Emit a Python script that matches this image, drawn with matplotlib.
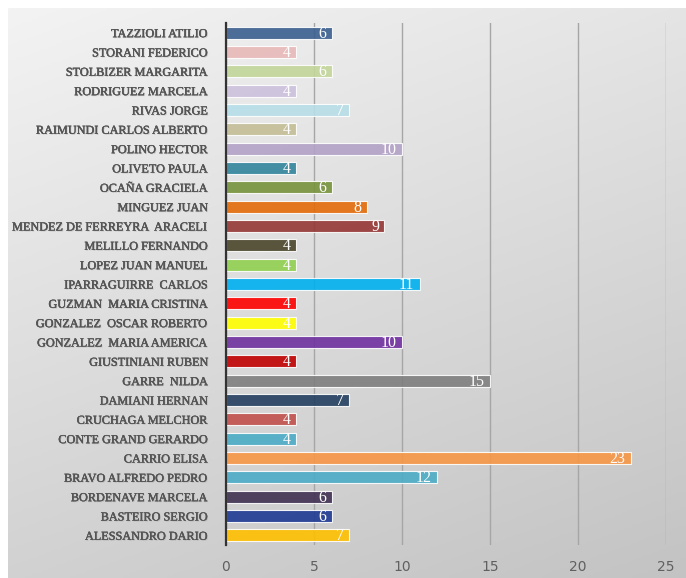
import numpy as np
import matplotlib
matplotlib.use("Agg")
import matplotlib.pyplot as plt
import matplotlib.patheffects as pe
from matplotlib.colors import LinearSegmentedColormap

# candidates, top to bottom as shown in the chart
names = [
    "TAZZIOLI ATILIO", "STORANI FEDERICO", "STOLBIZER MARGARITA",
    "RODRIGUEZ MARCELA", "RIVAS JORGE", "RAIMUNDI CARLOS ALBERTO",
    "POLINO HECTOR", "OLIVETO PAULA", "OCAÑA GRACIELA", "MINGUEZ JUAN",
    "MENDEZ DE FERREYRA  ARACELI", "MELILLO FERNANDO", "LOPEZ JUAN MANUEL",
    "IPARRAGUIRRE  CARLOS", "GUZMAN  MARIA CRISTINA", "GONZALEZ  OSCAR ROBERTO",
    "GONZALEZ  MARIA AMERICA", "GIUSTINIANI RUBEN", "GARRE  NILDA",
    "DAMIANI HERNAN", "CRUCHAGA MELCHOR", "CONTE GRAND GERARDO",
    "CARRIO ELISA", "BRAVO ALFREDO PEDRO", "BORDENAVE MARCELA",
    "BASTEIRO SERGIO", "ALESSANDRO DARIO",
]
counts = [6, 4, 6, 4, 7, 4, 10, 4, 6, 8, 9, 4, 4, 11, 4, 4, 10, 4, 15,
          7, 4, 4, 23, 12, 6, 6, 7]
colors = [
    "#3b5f8e", "#e8b9b8", "#c3d69b", "#cdc1dc", "#b7dee8", "#c4bd97",
    "#b3a2c7", "#31859c", "#77933c", "#e46c0a", "#953735", "#4a452a",
    "#92d050", "#00b0f0", "#ff0000", "#ffff00", "#7030a0", "#c00000",
    "#7f7f7f", "#243f60", "#c0504d", "#4bacc6", "#f79646", "#4bacc6",
    "#403152", "#1f3a93", "#ffc000",
]
xticks = [0, 5, 10, 15, 20, 25]

W, H = 686, 578
fig = plt.figure(figsize=(W / 100, H / 100), dpi=100)
fig.patch.set_facecolor("white")

# gradient background panel, light top-left to darker bottom-right
bg = fig.add_axes([8 / W, 0, (W - 8) / W, (H - 8) / H])
gx, gy = np.meshgrid(np.linspace(0, 1, 200), np.linspace(0, 1, 200))
grad = gx * 0.3 + gy * 0.7
cmap = LinearSegmentedColormap.from_list("panel", ["#f3f3f3", "#c3c3c3"])
bg.imshow(grad, cmap=cmap, vmin=0, vmax=1, aspect="auto", extent=[0, 1, 1, 0])
bg.set_axis_off()

ax = fig.add_axes([226 / W, 1 - 545 / H, (666 - 226) / W, (545 - 23) / H])
ax.patch.set_alpha(0)

y = np.arange(len(names))
ax.barh(y, counts, height=0.62, color=colors, alpha=0.9,
        edgecolor=(1, 1, 1, 0.3), linewidth=0.8, zorder=3)

for yi, v in zip(y, counts):
    ax.text(v - 0.3, yi + 0.05, str(v), ha="right", va="center", color="white",
            fontsize=11.5, family="Liberation Serif", zorder=4)

ax.set_xlim(0, 25)
ax.set_ylim(len(names) - 0.5, -0.5)
ax.set_xticks(xticks)
ax.set_yticks(y)
ax.set_yticklabels(names)
ax.grid(axis="x", color="#a6a6a6", linewidth=1, zorder=0)
for s in ["top", "right", "bottom"]:
    ax.spines[s].set_visible(False)
ax.spines["left"].set_color("#333333")
ax.spines["left"].set_linewidth(1.6)
ax.spines["left"].set_zorder(5)
ax.tick_params(axis="both", length=0)
ax.tick_params(axis="y", pad=13)
ax.tick_params(axis="x", pad=11)

label_fx = [pe.withSimplePatchShadow(offset=(0.7, -0.7), shadow_rgbFace="#a0a0a0", alpha=0.45),
            pe.withStroke(linewidth=0.2, foreground="#555555")]
for lbl in ax.get_yticklabels():
    lbl.set_family("Liberation Serif")
    lbl.set_fontsize(8.8)
    lbl.set_color("#555555")
    lbl.set_path_effects(label_fx)
for lbl in ax.get_xticklabels():
    lbl.set_family("DejaVu Sans")
    lbl.set_fontsize(10)
    lbl.set_color("#606060")

fig.savefig("out.png", dpi=100)
